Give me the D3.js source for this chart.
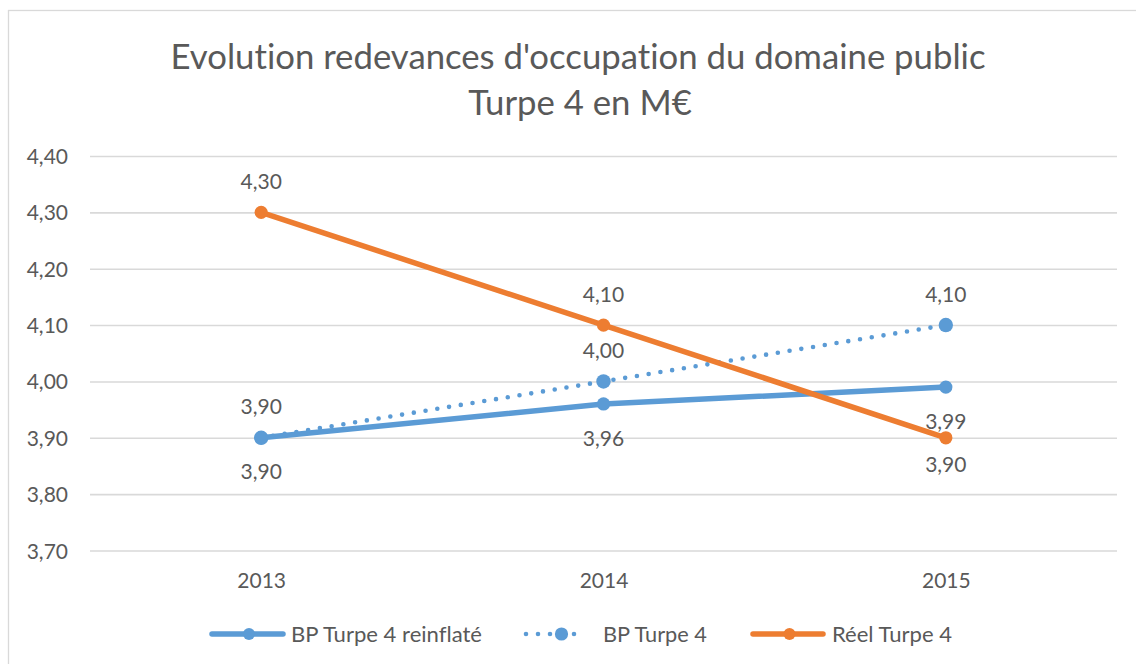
<!DOCTYPE html>
<html>
<head>
<meta charset="utf-8">
<script src="https://cdn.jsdelivr.net/npm/d3@7"></script>
<style>
  body { margin: 0; background: #fff; }
  svg { display: block; }
  text { font-family: Lato, "Open Sans", sans-serif; fill: #595959; font-variant-ligatures: none; }
</style>
</head>
<body>
<svg id="chart" width="1136" height="664"></svg>
<script>
// ---- data ----
const years = ["2013", "2014", "2015"];
const bpReinflate = [3.90, 3.96, 3.99];
const bpTurpe4 = [3.90, 4.00, 4.10];
const reelTurpe4 = [4.30, 4.10, 3.90];
const yTicks = [3.70, 3.80, 3.90, 4.00, 4.10, 4.20, 4.30, 4.40];
const titleLines = ["Evolution redevances d'occupation du domaine public", "Turpe 4 en M€"];
const seriesNames = ["BP Turpe 4 reinflaté", "BP Turpe 4", "Réel Turpe 4"];

// ---- styling / layout ----
const W = 1136, H = 664;
const plot = { left: 90, right: 1117, top: 156, bottom: 550.5 };
const BLUE = "#5B9BD5", ORANGE = "#ED7D31", GRID = "#D9D9D9";

const fr = d3.formatLocale({ decimal: ",", thousands: " ", grouping: [3], currency: ["", " €"] });
const fmt = fr.format(".2f");

const series = [
  { name: seriesNames[0], values: bpReinflate, color: BLUE, dotted: false, r: 6.6,
    place: ["below", "below", "below"], below: 34, above: -31 },
  { name: seriesNames[1], values: bpTurpe4, color: BLUE, dotted: true, r: 7.2,
    place: ["above", "above", "above"], below: 34, above: -31 },
  { name: seriesNames[2], values: reelTurpe4, color: ORANGE, dotted: false, r: 6.6,
    place: ["above", "above", "below"], below: 27, above: -31 }
];

const svg = d3.select("#chart");

// chart frame (right and bottom edges run past the canvas)
svg.append("rect")
  .attr("x", 8.5).attr("y", 10.5)
  .attr("width", W + 20).attr("height", H + 20)
  .attr("fill", "#fff").attr("stroke", GRID).attr("stroke-width", 1.3);

// scales
const x = d3.scalePoint().domain(years).range([plot.left, plot.right]).padding(0.5);
const y = d3.scaleLinear().domain([3.7, 4.4]).range([plot.bottom, plot.top]);

// y axis with gridlines
const yAxis = svg.append("g")
  .attr("transform", `translate(${plot.left},0)`)
  .call(d3.axisLeft(y).tickValues(yTicks).tickFormat(fmt)
    .tickSizeInner(-(plot.right - plot.left)).tickSizeOuter(0).tickPadding(22));
yAxis.select(".domain").remove();
yAxis.selectAll("line").attr("stroke", GRID).attr("stroke-width", 1.6);
yAxis.selectAll("text")
  .attr("font-size", 21).attr("font-family", "Lato, 'Open Sans', sans-serif")
  .attr("fill", "#595959").attr("dy", "0.36em");

// x axis labels
const xAxis = svg.append("g")
  .attr("transform", `translate(0,${plot.bottom})`)
  .call(d3.axisBottom(x).tickSize(0));
xAxis.select(".domain").remove();
xAxis.selectAll("text")
  .attr("font-size", 21).attr("font-family", "Lato, 'Open Sans', sans-serif")
  .attr("fill", "#595959").attr("y", 29.5).attr("dy", "0.36em");

// title
const title = svg.append("g");
const t1 = title.append("text").attr("x", 578).attr("y", 69)
  .attr("text-anchor", "middle").attr("font-size", 34).text(titleLines[0]);
const t2 = title.append("text").attr("x", 580).attr("y", 115)
  .attr("text-anchor", "middle").attr("font-size", 34).text(titleLines[1]);
const ratio = 815 / t1.node().getComputedTextLength();
t1.attr("textLength", 815).attr("lengthAdjust", "spacingAndGlyphs");
t2.attr("textLength", t2.node().getComputedTextLength() * ratio).attr("lengthAdjust", "spacingAndGlyphs");

// lines
const line = d3.line().x((d, i) => x(years[i])).y(d => y(d));
const marks = svg.append("g");
series.forEach(s => {
  const p = marks.append("path")
    .datum(s.values)
    .attr("d", line)
    .attr("fill", "none")
    .attr("stroke", s.color)
    .attr("stroke-linecap", "round")
    .attr("stroke-linejoin", "round");
  if (s.dotted) p.attr("stroke-width", 4.6).attr("stroke-dasharray", "0 11.9");
  else p.attr("stroke-width", 5.5);
  marks.selectAll(null).data(s.values).join("circle")
    .attr("cx", (d, i) => x(years[i]))
    .attr("cy", d => y(d))
    .attr("r", s.r)
    .attr("fill", s.color);
});

// data labels
const labels = svg.append("g");
series.forEach(s => {
  labels.selectAll(null).data(s.values).join("text")
    .attr("x", (d, i) => x(years[i]))
    .attr("y", (d, i) => y(d) + (s.place[i] === "above" ? s.above : s.below))
    .attr("dy", "0.36em")
    .attr("text-anchor", "middle")
    .attr("font-size", 21)
    .text(d => fmt(d));
});

// legend
const legendY = 634;
const legendItems = [
  { s: series[0], x0: 212, len: 71, tx: 291, tw: 191 },
  { s: series[1], x0: 526, len: 60, tx: 603, tw: 104 },
  { s: series[2], x0: 753, len: 70, tx: 832, tw: 120 }
];
const legend = svg.append("g");
legendItems.forEach(it => {
  const g = legend.append("g");
  const ln = g.append("line")
    .attr("x1", it.x0).attr("x2", it.x0 + it.len)
    .attr("y1", legendY).attr("y2", legendY)
    .attr("stroke", it.s.color).attr("stroke-linecap", "round");
  if (it.s.dotted) ln.attr("stroke-width", 4.6).attr("stroke-dasharray", "0 12");
  else ln.attr("stroke-width", 5.5);
  g.append("circle")
    .attr("cx", it.s.dotted ? it.x0 + 35.5 : it.x0 + (it.len) / 2 + 1.5)
    .attr("cy", legendY)
    .attr("r", it.s.dotted ? 6.6 : 6)
    .attr("fill", it.s.color);
  g.append("text")
    .attr("x", it.tx).attr("y", legendY).attr("dy", "0.36em")
    .attr("font-size", 21)
    .attr("textLength", it.tw).attr("lengthAdjust", "spacingAndGlyphs")
    .text(it.s.name);
});
</script>
</body>
</html>
